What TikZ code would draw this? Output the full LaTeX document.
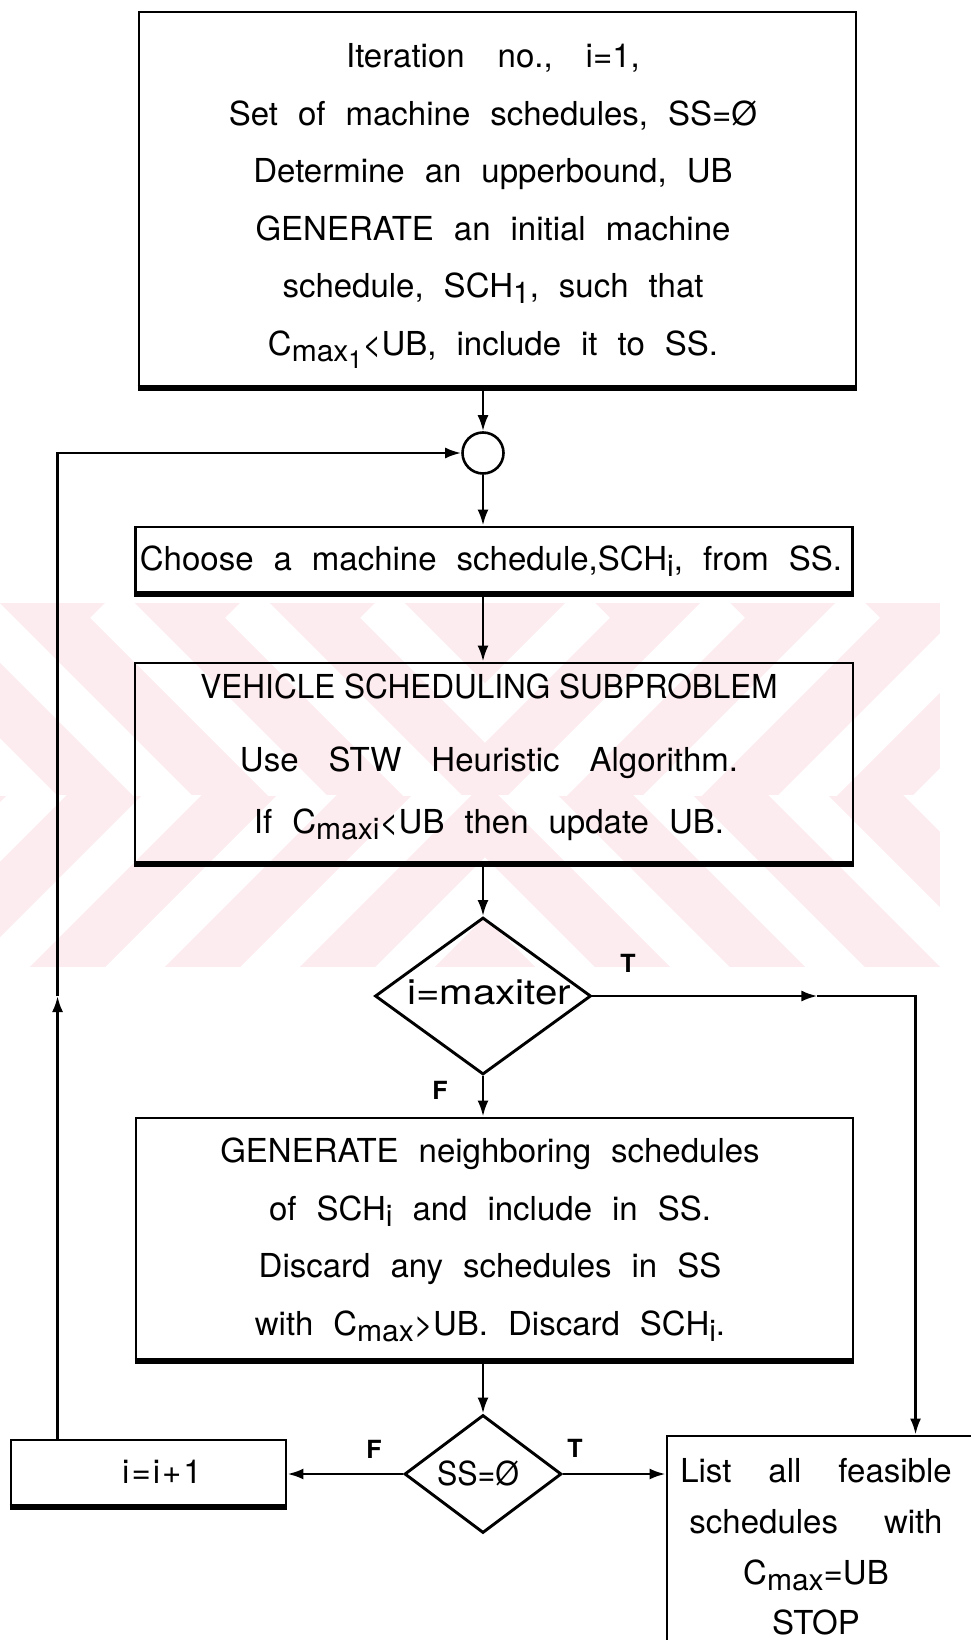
\documentclass[tikz,border=0pt]{standalone}
\usepackage{fontspec}
\setmainfont{TeX Gyre Heros}
\usetikzlibrary{arrows.meta,shapes.geometric}
\definecolor{wm}{RGB}{253,236,239}
\newcommand{\subx}[1]{\raisebox{-6pt}{\fontsize{30}{30}\selectfont #1}}
\newcommand{\subxx}[1]{\raisebox{-13pt}{\fontsize{25}{25}\selectfont #1}}
\newcommand{\wsp}{\spaceskip 20pt plus 2pt minus 2pt\relax}
\newcommand{\nsp}{\spaceskip 0pt\relax}
\newcommand{\mainfs}{\fontsize{33}{57.6}\selectfont\wsp}
\newcommand{\vehfs}{\fontsize{33}{62}\selectfont\wsp}
\newcommand{\listfs}{\fontsize{33}{50.7}\selectfont\wsp}
\newcommand{\labfs}{\fontsize{25}{25}\selectfont\bfseries}
\begin{document}
\begin{tikzpicture}[x=1pt,y=-1pt,
  box/.style={draw,line width=2.9pt,inner sep=0pt,rectangle},
  conn/.style={line width=2.6pt},
  arr/.style={conn,-{Latex[length=16pt,width=11pt]}},
  heavy/.style={line width=6pt},
  txt/.style={align=center,inner sep=0pt,font=\mainfs},
  lab/.style={font=\labfs,inner sep=0pt},
  dia/.style={draw,diamond,line width=2.9pt,inner sep=0pt}
]
\useasboundingbox (0,0) rectangle (970,1640);

% watermark
\begin{scope}
  \clip (0,603) rectangle (940,967);
  \fill[wm] (0,603) rectangle (940,967);
\end{scope}
\begin{scope}
  \clip (0,603) rectangle (485,795);
  \foreach \c in {-300,-165,...,480} \draw[white,line width=42pt] (\c,603) -- ++(400,400);
\end{scope}
\begin{scope}
  \clip (0,795) rectangle (485,967);
  \foreach \c in {-300,-165,...,480} \draw[white,line width=42pt] (\c+10,987) -- ++(400,-400);
\end{scope}
\begin{scope}
  \clip (485,603) rectangle (940,795);
  \foreach \c in {-300,-165,...,480} \draw[white,line width=42pt] (970-\c,603) -- ++(-400,400);
\end{scope}
\begin{scope}
  \clip (485,795) rectangle (940,967);
  \foreach \c in {-300,-165,...,480} \draw[white,line width=42pt] (960-\c,987) -- ++(-400,-400);
\end{scope}

% boxes
\node[box,minimum width=717,minimum height=375] (top) at (497.5,199.5) {};
\node[txt] (toptxt) at (493,206) {Iteration\hspace{33pt}no.,\hspace{33pt}i=1,\\
Set of machine schedules, SS=Ø\\
Determine an upperbound, UB\\
GENERATE an initial machine\\
schedule, SCH\subx{1}, such that\\
C\subx{max}\subxx{1}<UB, include it to SS.};

\node[draw,circle,line width=2.6pt,minimum size=41pt,inner sep=0pt] (circ) at (483,453) {};

\node[box,minimum width=717,minimum height=66] (choose) at (494,560) {};
\node[txt] (choosetxt) at (491,561) {Choose a machine schedule,SCH\subx{i}, from SS.};

\node[box,minimum width=718,minimum height=200] (veh) at (494,763) {};
\node[txt,font=\vehfs] (vehtxt) at (489,757) {\scalebox{0.955}[1]{\nsp VEHICLE SCHEDULING SUBPROBLEM}\\[11pt]
Use\hspace{30pt}STW\hspace{30pt}Heuristic\hspace{30pt}Algorithm.\\
If C\subx{max}\subx{i}<UB then update UB.};

\node[dia,minimum width=216,minimum height=157] (dm) at (483,996) {};
\node[txt] (dmtxt) at (489,992) {\scalebox{1.15}[1]{\fontsize{35}{35}\selectfont i=maxiter}};

\node[box,minimum width=717,minimum height=242] (gen) at (494.5,1239) {};
\node[txt] (gentxt) at (490,1240) {GENERATE neighboring schedules\\
of SCH\subx{i} and include in SS.\\
Discard any schedules in SS\\
with C\subx{max}>UB. Discard SCH\subx{i}.};

\node[dia,minimum width=157,minimum height=118] (ss) at (483,1474) {};
\node[txt] (sstxt) at (478,1473) {\scalebox{0.92}[1]{SS=Ø}};

\node[box,minimum width=275,minimum height=66] (inc) at (148.5,1473) {};
\node[txt] (inctxt) at (162,1472) {i\kern2pt=\kern2pt i\kern2pt+\kern2pt1};

\node[box,minimum width=318,minimum height=250] (list) at (826,1561) {};
\node[txt,font=\listfs] (listtxt) at (816,1547) {List\hspace{37pt}all\hspace{37pt}feasible\\
schedules\hspace{46pt}with\\
C\subx{max}=UB\\
STOP};

% heavy bottom edges
\draw[heavy] (top.south west) -- (top.south east);
\draw[heavy] (choose.south west) -- (choose.south east);
\draw[heavy] (veh.south west) -- (veh.south east);
\draw[heavy] (gen.south west) -- (gen.south east);
\draw[heavy] (inc.south west) -- (inc.south east);

% connectors
\draw[arr] (top.south -| circ.north) -- (circ.north);
\draw[arr] (circ.south) -- (choose.north -| circ.south);
\draw[arr] (choose.south -| circ.south) -- (veh.north -| circ.south);
\draw[arr] (veh.south -| dm.north) -- (dm.north);
\draw[arr] (dm.south) -- (gen.north -| dm.south);
\draw[arr] (gen.south -| ss.north) -- (ss.north);
\draw[arr] (ss.west) -- (inc.east |- ss.west);
\draw[arr] (ss.east) -- (list.west |- ss.east);

\path (inc.north west) ++(48,0) coordinate (lb);
\draw[arr] (lb) -- (lb |- dm.west);
\draw[arr] (lb |- dm.west) |- (circ.west);

\path (dm.east) ++(225,0) coordinate (ra);
\path (list.north west) ++(250,0) coordinate (rc);
\draw[arr] (dm.east) -- (ra);
\draw[arr] (ra) -| (rc);

% labels
\node[lab] (t1) at (628,963) {T};
\node[lab] (f1) at (440,1090) {F};
\node[lab] (f2) at (374,1449) {F};
\node[lab] (t2) at (575,1448) {T};
\end{tikzpicture}
\end{document}
